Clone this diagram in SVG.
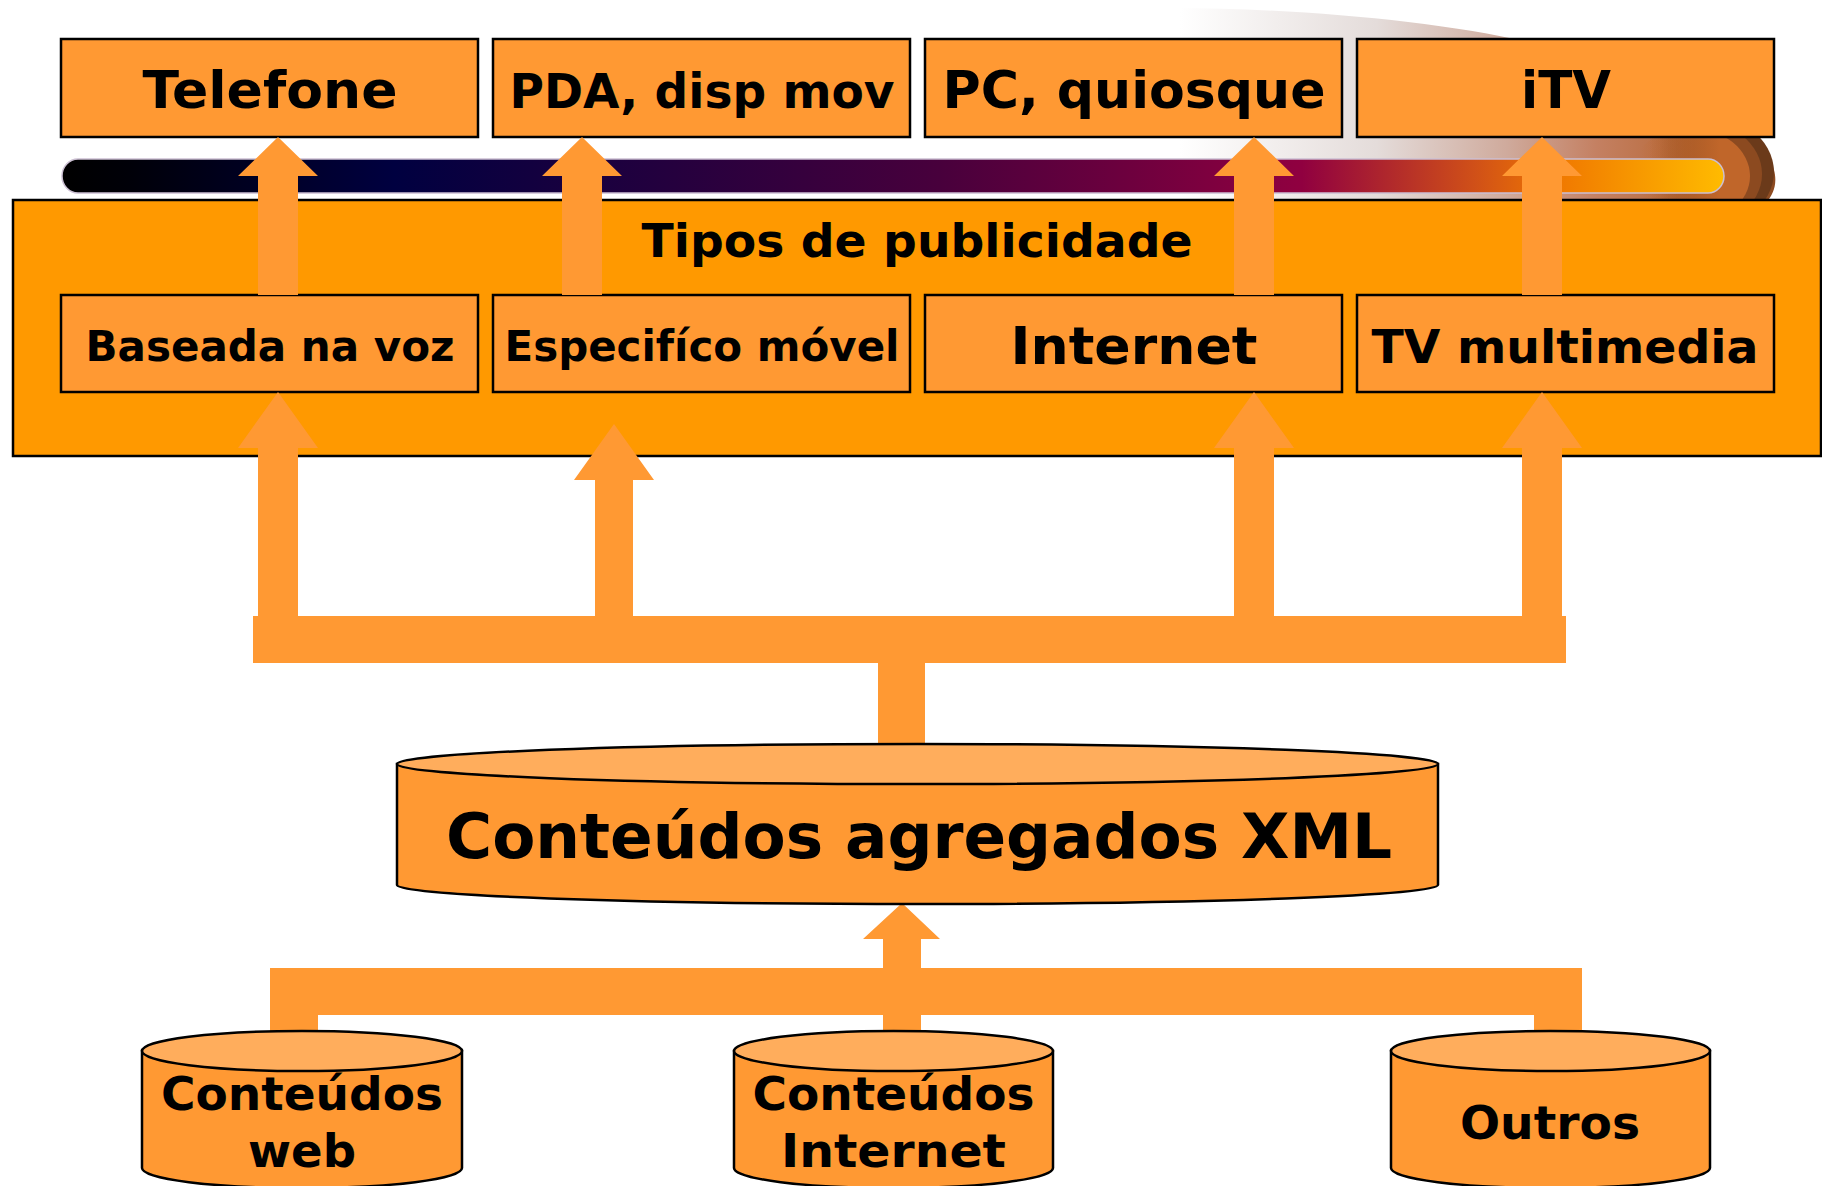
<svg xmlns="http://www.w3.org/2000/svg" width="1822" height="1186" viewBox="0 0 1822 1186">
<defs>
<style>
.box{fill:#FF9933;stroke:#000;stroke-width:2.5}
.big{fill:#FF9900;stroke:#000;stroke-width:2.5}
.cyl{fill:#FF9933;stroke:#000;stroke-width:2.5}
.cyltop{fill:#FFAD5C;stroke:#000;stroke-width:2.5}
.arrow{fill:#FF9933}
text{font-family:"DejaVu Sans","Liberation Sans",sans-serif;font-weight:bold;fill:#000;text-anchor:middle}
</style>
<linearGradient id="barGrad" gradientUnits="userSpaceOnUse" x1="62" y1="0" x2="1724" y2="0">
<stop offset="0" stop-color="#000000"/>
<stop offset="0.04" stop-color="#000008"/>
<stop offset="0.2" stop-color="#000040"/>
<stop offset="0.528" stop-color="#48003c"/>
<stop offset="0.746" stop-color="#900040"/>
<stop offset="0.85" stop-color="#d05018"/>
<stop offset="0.9" stop-color="#f07800"/>
<stop offset="1" stop-color="#ffbb00"/>
</linearGradient>
<linearGradient id="swooshGrad" gradientUnits="userSpaceOnUse" x1="1180" y1="0" x2="1775" y2="0">
<stop offset="0" stop-color="#ffffff"/>
<stop offset="0.33" stop-color="#e4dcda"/>
<stop offset="0.55" stop-color="#cfaa9c"/>
<stop offset="0.7" stop-color="#c48062"/>
<stop offset="0.85" stop-color="#b86a3a"/>
<stop offset="1" stop-color="#8c4a20"/>
</linearGradient>
<linearGradient id="bandDark" gradientUnits="userSpaceOnUse" x1="1660" y1="0" x2="1745" y2="0">
<stop offset="0" stop-color="#6b3a1a" stop-opacity="0"/>
<stop offset="1" stop-color="#6b3a1a" stop-opacity="1"/>
</linearGradient>
<linearGradient id="bandMid" gradientUnits="userSpaceOnUse" x1="1650" y1="0" x2="1735" y2="0">
<stop offset="0" stop-color="#8c4a20" stop-opacity="0"/>
<stop offset="1" stop-color="#8c4a20" stop-opacity="1"/>
</linearGradient>
<linearGradient id="bandLight" gradientUnits="userSpaceOnUse" x1="1640" y1="0" x2="1720" y2="0">
<stop offset="0" stop-color="#c0662a" stop-opacity="0"/>
<stop offset="1" stop-color="#c0662a" stop-opacity="1"/>
</linearGradient>
</defs>
<rect x="0" y="0" width="1822" height="1186" fill="#ffffff"/>

<g id="decoration">
<path d="M1100,8 L1171,8 C1300,8 1450,22 1540,45 C1650,75 1760,110 1774,170 C1778,185 1772,195 1769,199 L1100,199 Z" fill="url(#swooshGrad)"/>
<ellipse cx="1690" cy="172" rx="84" ry="62" fill="url(#bandDark)"/>
<ellipse cx="1690" cy="174" rx="72" ry="56" fill="url(#bandMid)"/>
<ellipse cx="1690" cy="176" rx="60" ry="48" fill="url(#bandLight)"/>
<rect x="62" y="159" width="1662" height="34" rx="16" ry="17" fill="url(#barGrad)" stroke="#cbbfd2" stroke-width="1.5"/>
</g>

<g id="tipos">
<rect class="big" x="13" y="200" width="1808" height="256"/>
<text x="917" y="257" font-size="47" textLength="551" lengthAdjust="spacingAndGlyphs">Tipos de publicidade</text>
</g>

<g id="telefone">
<rect class="box" x="61" y="39" width="417" height="98"/>
<text x="270" y="108" font-size="52" textLength="255" lengthAdjust="spacingAndGlyphs">Telefone</text>
</g>
<g id="pda">
<rect class="box" x="493" y="39" width="417" height="98"/>
<text x="702" y="108" font-size="48" textLength="385" lengthAdjust="spacingAndGlyphs">PDA, disp mov</text>
</g>
<g id="pc">
<rect class="box" x="925" y="39" width="417" height="98"/>
<text x="1134" y="108" font-size="52" textLength="383" lengthAdjust="spacingAndGlyphs">PC, quiosque</text>
</g>
<g id="itv">
<rect class="box" x="1357" y="39" width="417" height="98"/>
<text x="1566" y="108" font-size="52" textLength="90" lengthAdjust="spacingAndGlyphs">iTV</text>
</g>

<g id="baseada">
<rect class="box" x="61" y="295" width="417" height="97"/>
<text x="270" y="361" font-size="42" textLength="369" lengthAdjust="spacingAndGlyphs">Baseada na voz</text>
</g>
<g id="especifico">
<rect class="box" x="493" y="295" width="417" height="97"/>
<text x="702" y="361" font-size="42" textLength="395" lengthAdjust="spacingAndGlyphs">Especifíco móvel</text>
</g>
<g id="internet">
<rect class="box" x="925" y="295" width="417" height="97"/>
<text x="1134" y="364" font-size="52" textLength="247" lengthAdjust="spacingAndGlyphs">Internet</text>
</g>
<g id="tvmultimedia">
<rect class="box" x="1357" y="295" width="417" height="97"/>
<text x="1565" y="363" font-size="47" textLength="387" lengthAdjust="spacingAndGlyphs">TV multimedia</text>
</g>

<g id="connectors">
<path class="arrow" d="M258,295 L258,176 L238,176 L278,137 L318,176 L298,176 L298,295 Z"/>
<path class="arrow" d="M562,295 L562,176 L542,176 L582,137 L622,176 L602,176 L602,295 Z"/>
<path class="arrow" d="M1234,295 L1234,176 L1214,176 L1254,137 L1294,176 L1274,176 L1274,295 Z"/>
<path class="arrow" d="M1522,295 L1522,176 L1502,176 L1542,137 L1582,176 L1562,176 L1562,295 Z"/>
<path class="arrow" d="M258,620 L258,448 L238,448 L278,392 L318,448 L298,448 L298,620 Z"/>
<path class="arrow" d="M595,620 L595,480 L574,480 L614,424 L654,480 L633,480 L633,620 Z"/>
<path class="arrow" d="M1234,620 L1234,448 L1214,448 L1254,392 L1294,448 L1274,448 L1274,620 Z"/>
<path class="arrow" d="M1522,620 L1522,448 L1502,448 L1542,392 L1582,448 L1562,448 L1562,620 Z"/>
<rect class="arrow" x="253" y="616" width="1313" height="47"/>
<rect class="arrow" x="878" y="660" width="47" height="95"/>
<path class="arrow" d="M883,972 L883,939 L863,939 L902,903 L940,939 L921,939 L921,972 Z"/>
<rect class="arrow" x="270" y="968" width="1312" height="47"/>
<rect class="arrow" x="270" y="1012" width="48" height="30"/>
<rect class="arrow" x="883" y="1012" width="38" height="30"/>
<rect class="arrow" x="1534" y="1012" width="48" height="30"/>
</g>

<g id="xml">
<path class="cyl" d="M397,764 L397,885 A520.5,19 0 0 0 1438,885 L1438,764 Z"/>
<ellipse class="cyltop" cx="917.5" cy="764" rx="520.5" ry="20"/>
<text x="919" y="858" font-size="63" textLength="946" lengthAdjust="spacingAndGlyphs">Conteúdos agregados XML</text>
</g>

<g id="web">
<path class="cyl" d="M142,1051 L142,1168 A160,20 0 0 0 462,1168 L462,1051 Z"/>
<ellipse class="cyltop" cx="302" cy="1051" rx="160" ry="20"/>
<text x="302" y="1110" font-size="47" textLength="282" lengthAdjust="spacingAndGlyphs">Conteúdos</text>
<text x="302" y="1167" font-size="47" textLength="108" lengthAdjust="spacingAndGlyphs">web</text>
</g>
<g id="conteudosinternet">
<path class="cyl" d="M734,1051 L734,1168 A159.5,20 0 0 0 1053,1168 L1053,1051 Z"/>
<ellipse class="cyltop" cx="893.5" cy="1051" rx="159.5" ry="20"/>
<text x="893.5" y="1110" font-size="47" textLength="282" lengthAdjust="spacingAndGlyphs">Conteúdos</text>
<text x="893.5" y="1167" font-size="47" textLength="225" lengthAdjust="spacingAndGlyphs">Internet</text>
</g>
<g id="outros">
<path class="cyl" d="M1391,1051 L1391,1168 A159.5,20 0 0 0 1710,1168 L1710,1051 Z"/>
<ellipse class="cyltop" cx="1550.5" cy="1051" rx="159.5" ry="20"/>
<text x="1550" y="1139" font-size="47" textLength="180" lengthAdjust="spacingAndGlyphs">Outros</text>
</g>
</svg>
